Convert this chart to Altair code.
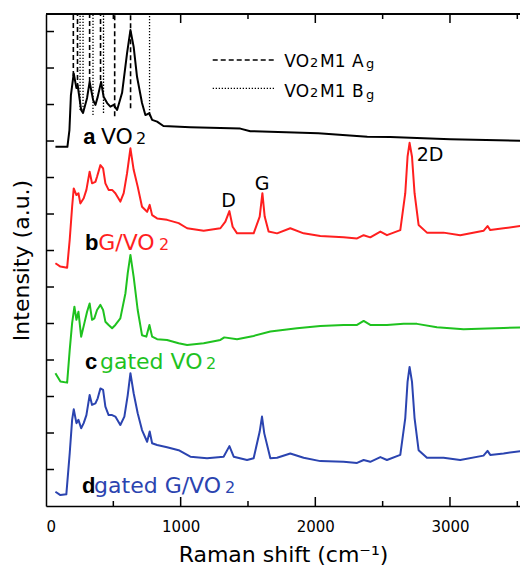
import altair as alt
import pandas as pd

# ---------------- data ----------------
shift_a = [70,159,174,185,206,226,235,261,275,305,324,350,367,384,409,428,454,478,503,528,565,602,627,651,676,713,738,768,788,825,872,1072,1443,1517,2022,2386,2557,3002,3581]
int_a = [9.84,9.84,10.30,11.26,11.85,11.45,11.53,10.85,10.77,11.18,11.62,11.12,10.99,11.21,11.62,11.21,11.04,10.94,10.99,10.85,11.32,12.41,13.04,12.58,11.76,11.04,10.71,10.76,10.58,10.53,10.41,10.38,10.34,10.27,10.21,10.12,10.11,10.05,10.00]

shift_b = [70,107,157,176,194,206,226,241,255,280,300,324,342,367,379,404,424,441,465,491,515,552,577,602,627,651,681,713,751,770,788,825,899,985,1048,1171,1295,1332,1362,1386,1419,1542,1587,1607,1624,1653,1716,1814,1913,2037,2210,2310,2359,2408,2483,2532,2631,2668,2685,2700,2718,2737,2767,2829,2952,3076,3249,3279,3299,3398,3581]
int_b = [6.65,6.56,6.53,7.29,8.20,8.70,8.52,8.57,8.29,8.43,8.66,9.16,8.84,8.88,9.02,9.34,9.25,8.84,8.66,8.66,8.57,8.34,8.57,9.12,9.80,9.21,8.75,8.20,8.06,8.25,7.97,7.88,7.84,7.75,7.61,7.54,7.61,7.79,8.08,7.65,7.47,7.47,7.93,8.57,7.93,7.52,7.47,7.61,7.47,7.40,7.36,7.33,7.42,7.36,7.52,7.42,7.56,8.57,9.57,9.95,9.57,8.57,7.70,7.49,7.49,7.42,7.54,7.67,7.56,7.61,7.70]

shift_c = [70,107,157,176,194,211,226,241,261,285,305,324,342,359,379,404,424,441,465,491,515,552,590,607,627,651,681,713,745,768,788,825,899,985,1048,1171,1295,1324,1419,1542,1666,1864,2037,2210,2310,2359,2408,2532,2656,2755,2903,3101,3275,3398,3581]
int_c = [3.64,3.41,3.38,4.27,5.01,5.46,5.10,5.32,4.64,5.01,5.32,5.55,5.10,5.14,5.37,5.51,5.37,5.05,4.96,4.87,4.96,5.14,5.83,6.38,6.88,6.28,5.37,4.68,4.64,4.96,4.64,4.57,4.55,4.46,4.41,4.46,4.55,4.62,4.57,4.66,4.78,4.87,4.93,4.96,4.96,5.07,4.96,4.96,4.99,4.99,4.90,4.84,4.86,4.88,4.90]

shift_d = [70,107,151,176,194,206,226,241,261,280,300,324,342,367,384,404,424,441,465,491,515,552,582,607,627,651,681,713,751,770,788,825,899,985,1072,1196,1319,1362,1394,1493,1542,1587,1604,1621,1666,1716,1814,1913,2037,2210,2310,2359,2408,2483,2532,2631,2668,2685,2700,2718,2737,2767,2829,2952,3076,3249,3279,3299,3398,3581]
int_d = [0.39,0.30,0.32,1.44,2.36,2.65,2.27,2.36,2.13,2.27,2.49,3.04,2.77,2.81,2.95,3.22,3.18,2.72,2.49,2.49,2.45,2.22,2.45,3.04,3.64,3.09,2.54,2.08,1.76,2.04,1.72,1.67,1.61,1.53,1.35,1.31,1.35,1.64,1.35,1.26,1.31,2.04,2.45,1.99,1.31,1.32,1.44,1.32,1.23,1.21,1.18,1.26,1.21,1.34,1.26,1.40,2.41,3.40,3.81,3.40,2.41,1.53,1.32,1.32,1.26,1.38,1.51,1.40,1.44,1.53]

series_names = ["a", "b", "c", "d"]
series_colors = ["#000000", "#ff1f1f", "#1fc21f", "#2b44b0"]

# VO2 M1 mode markers (position, lower end of the marker line)
ag_pos = [203, 234, 324, 405, 510, 628]
ag_end = [11.78, 11.45, 11.62, 11.67, 10.68, 10.90]
bg_pos = [253, 275, 349, 427, 769]
bg_end = [10.85, 10.85, 10.71, 10.77, 10.68]

x_labels = [0, 1000, 2000, 3000]
x_major = [1000, 2000, 3000]
x_minor = [500, 1500, 2500, 3500]
y_ticks = [1, 2, 3, 4, 5, 6, 7, 8, 9, 10, 11, 12, 13]

X_MAX = 3520
Y_MAX = 13.48
FONT = "DejaVu Sans"
BOLD_FONT = "Liberation Sans"

# ---------------- tables ----------------
rows = []
for name, xs, ys in [("a", shift_a, int_a), ("b", shift_b, int_b),
                     ("c", shift_c, int_c), ("d", shift_d, int_d)]:
    for i, (xv, yv) in enumerate(zip(xs, ys)):
        rows.append({"series": name, "shift": xv, "intensity": yv, "idx": i})
spectra = pd.DataFrame(rows)

ag = pd.DataFrame({"shift": ag_pos, "intensity": ag_end, "top": [Y_MAX] * len(ag_pos)})
bg = pd.DataFrame({"shift": bg_pos, "intensity": bg_end, "top": [Y_MAX] * len(bg_pos)})

legend_lines = pd.DataFrame({
    "shift": [1238, 1238], "end": [1701, 1701],
    "intensity": [12.22, 11.44], "kind": ["Ag", "Bg"]})

# text annotations: label, x (cm-1), y (baseline, data units), size, colour
bold_labels = pd.DataFrame({
    "label": ["a", "b", "c", "d"],
    "shift": [277, 290, 290, 267],
    "intensity": [9.92, 7.01, 3.75, 0.36],
})
plain_labels = pd.DataFrame({
    "label": ["VO", "2", "G/VO", "2", "gated VO", "2", "gated G/VO", "2",
              "VO", "2", "M1", "A", "g", "VO", "2", "M1", "B", "g", "2D"],
    "shift": [408, 668, 388, 839, 401, 1188, 357, 1329,
              1770, 1960, 2035, 2273, 2377, 1770, 1960, 2035, 2273, 2377, 2753],
    "intensity": [9.92, 9.92, 7.01, 7.01, 3.75, 3.75, 0.36, 0.36,
                  12.04, 12.04, 12.04, 12.04, 11.99, 11.21, 11.21, 11.21, 11.21, 11.16, 9.46],
    "size": [22, 16, 22, 16, 22, 16, 22, 16,
             17, 13, 17, 17, 13, 17, 13, 17, 17, 13, 19],
    "color": ["#000000", "#000000", "#ff1f1f", "#ff1f1f", "#1fc21f", "#1fc21f",
              "#2b44b0", "#2b44b0",
              "#000000", "#000000", "#000000", "#000000", "#000000",
              "#000000", "#000000", "#000000", "#000000", "#000000", "#000000"],
})
peak_labels = pd.DataFrame({
    "label": ["D", "G"],
    "shift": [1355, 1604],
    "intensity": [8.20, 8.66],
})

# ---------------- encodings ----------------
xscale = alt.Scale(domain=[0, X_MAX], nice=False, zero=False)
yscale = alt.Scale(domain=[0, Y_MAX], nice=False, zero=False)
xaxis = alt.Axis(values=x_labels, format="d", ticks=False, grid=False, domain=True,
                 domainColor="black", domainWidth=1.5,
                 labelFont=FONT, labelFontSize=15, labelColor="black", labelPadding=13,
                 title="Raman shift (cm⁻¹)", titleFont=FONT, titleFontSize=22,
                 titleFontWeight="normal", titleColor="black",
                 titleBaseline="alphabetic", titleY=55)
yaxis = alt.Axis(labels=False, ticks=False, grid=False, domain=True,
                 domainColor="black", domainWidth=1.5,
                 title="Intensity (a.u.)", titleFont=FONT, titleFontSize=22,
                 titleFontWeight="normal", titleColor="black", titleAngle=270,
                 titleBaseline="alphabetic", titleAlign="center",
                 titleX=-18, titleY=246)
X = alt.X("shift:Q", scale=xscale, axis=xaxis)
Y = alt.Y("intensity:Q", scale=yscale, axis=yaxis)

lines = alt.Chart(spectra).mark_line(strokeWidth=2, strokeJoin="round", clip=True).encode(
    x=X, y=Y,
    color=alt.Color("series:N", scale=alt.Scale(domain=series_names, range=series_colors), legend=None),
    detail="series:N",
    order="idx:Q",
)

ag_rules = alt.Chart(ag).mark_rule(color="black", strokeWidth=1.6, strokeDash=[5, 3]).encode(
    x=X, y=Y, y2="top:Q")
bg_rules = alt.Chart(bg).mark_rule(color="black", strokeWidth=1.3, strokeDash=[1.3, 1.7]).encode(
    x=X, y=Y, y2="top:Q")

leg_ag = alt.Chart(legend_lines[legend_lines.kind == "Ag"]).mark_rule(
    color="black", strokeWidth=1.6, strokeDash=[5, 3]).encode(x=X, x2="end:Q", y=Y)
leg_bg = alt.Chart(legend_lines[legend_lines.kind == "Bg"]).mark_rule(
    color="black", strokeWidth=1.3, strokeDash=[1.3, 1.7]).encode(x=X, x2="end:Q", y=Y)

bold_text = alt.Chart(bold_labels).mark_text(
    font=BOLD_FONT, fontWeight="bold", fontSize=22, align="left", baseline="alphabetic", color="black"
).encode(x=X, y=Y, text="label:N")
plain_text = alt.Chart(plain_labels).mark_text(
    font=FONT, align="left", baseline="alphabetic"
).encode(x=X, y=Y, text="label:N",
         size=alt.Size("size:Q", scale=None, legend=None),
         color=alt.Color("color:N", scale=None, legend=None))
peak_text = alt.Chart(peak_labels).mark_text(
    font=FONT, fontSize=19, align="center", baseline="alphabetic", color="black"
).encode(x=X, y=Y, text="label:N")

# tick marks (inward), axis frame top line
maj = pd.DataFrame({"shift": x_major})
mnr = pd.DataFrame({"shift": x_minor})
yt = pd.DataFrame({"intensity": y_ticks})
H = 492
W = 474
tick_style = dict(color="black", strokeWidth=1.5)
bot_major = alt.Chart(maj).mark_rule(**tick_style).encode(x=X, y=alt.value(H), y2=alt.value(H - 9))
bot_minor = alt.Chart(mnr).mark_rule(**tick_style).encode(x=X, y=alt.value(H), y2=alt.value(H - 5))
top_major = alt.Chart(maj).mark_rule(**tick_style).encode(x=X, y=alt.value(0), y2=alt.value(9))
top_minor = alt.Chart(mnr).mark_rule(**tick_style).encode(x=X, y=alt.value(0), y2=alt.value(5))
left_ticks = alt.Chart(yt).mark_rule(**tick_style).encode(y=Y, x=alt.value(0), x2=alt.value(8))
top_line = alt.Chart(maj).mark_rule(color="black", strokeWidth=1.5).encode(
    x=alt.value(0), x2=alt.value(W), y=alt.value(0))

chart = alt.layer(
    ag_rules, bg_rules, lines, leg_ag, leg_bg, bold_text, plain_text, peak_text,
    bot_major, bot_minor, top_major, top_minor, left_ticks, top_line,
).properties(
    width=W, height=H,
    padding={"left": 38, "top": 6, "right": 0, "bottom": 63},
    autosize=alt.AutoSizeParams(type="none"),
).configure_view(stroke=None).configure(background="white")

chart.save("out.html", embed_options={"renderer": "svg", "actions": False})
